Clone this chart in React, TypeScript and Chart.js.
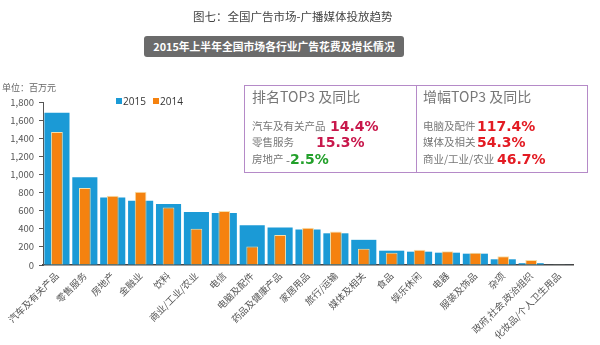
import React, { useEffect, useRef } from "react";
import { Chart, registerables } from "chart.js";

Chart.register(...registerables);

const categories = [
  "汽车及有关产品", "零售服务", "房地产", "金融业", "饮料", "商业/工业/农业", "电信",
  "电脑及配件", "药品及健康产品", "家居用品", "旅行/运输", "媒体及相关", "食品",
  "娱乐休闲", "电器", "服装及饰品", "杂项", "政府,社会,政治组织", "化妆品/个人卫生用品",
];
const values2015 = [1680, 970, 745, 710, 675, 585, 575, 440, 415, 392, 350, 278, 158, 147, 136, 125, 63, 20, 5];
const values2014 = [1470, 850, 765, 810, 635, 400, 595, 203, 330, 412, 370, 180, 136, 169, 151, 136, 96, 55, 8];
const yTicks = [0, 200, 400, 600, 800, 1000, 1200, 1400, 1600, 1800];

const rankTitle = "排名TOP3 及同比";
const rankNames = ["汽车及有关产品", "零售服务", "房地产"];
const rankValues = ["14.4%", "15.3%", "2.5%"];
const growthTitle = "增幅TOP3 及同比";
const growthNames = ["电脑及配件", "媒体及相关", "商业/工业/农业"];
const growthValues = ["117.4%", "54.3%", "46.7%"];

const FONT = '"Noto Sans CJK SC", "Noto Sans", sans-serif';
const BLUE = "#1b9ad6";
const ORANGE = "#f5820f";

export default function App() {
  const ref = useRef<HTMLCanvasElement>(null);
  useEffect(() => {
    if (!ref.current) return;
    const chart = new Chart(ref.current, {
      type: "bar",
      data: {
        labels: categories,
        datasets: [
          {
            label: "2015",
            data: values2015,
            backgroundColor: BLUE,
            borderWidth: 0,
            grouped: false,
            order: 2,
            categoryPercentage: 1,
            barPercentage: 0.9,
          },
          {
            label: "2014",
            data: values2014,
            backgroundColor: ORANGE,
            borderColor: "#f7dfa8",
            borderWidth: 1,
            grouped: false,
            order: 1,
            categoryPercentage: 1,
            barPercentage: 0.42,
          },
        ],
      },
      options: {
        responsive: false,
        animation: false,
        layout: { padding: { top: 102, right: 27, left: 0, bottom: 0 } },
        plugins: { legend: { display: false }, tooltip: { enabled: false } },
        scales: {
          x: {
            grid: { display: false, drawTicks: false },
            border: { display: true, color: "#444", width: 1.5 },
            ticks: {
              color: "#555",
              font: { family: FONT, size: 9.5 },
              maxRotation: 45,
              minRotation: 45,
              autoSkip: false,
              padding: 5,
            },
            afterFit: (s: any) => {
              s.height = 80;
            },
          },
          y: {
            min: 0,
            max: 1800,
            afterBuildTicks: (s: any) => {
              s.ticks = yTicks.map((v) => ({ value: v }));
            },
            grid: { display: true, drawOnChartArea: false, drawTicks: true, tickLength: 4, color: "#555" },
            border: { display: true, color: "#555", width: 1 },
            ticks: {
              color: "#555",
              font: { family: FONT, size: 9.5 },
              padding: 5,
              callback: (v: any) => Number(v).toLocaleString("en-US"),
            },
            afterFit: (s: any) => {
              s.width = 43;
            },
          },
        },
      },
    });
    return () => chart.destroy();
  }, []);

  const abs = (x: number, y: number, extra: React.CSSProperties = {}): React.CSSProperties => ({
    position: "absolute",
    left: x,
    top: y,
    whiteSpace: "nowrap",
    fontFamily: FONT,
    lineHeight: 1,
    ...extra,
  });

  const rowY = [119, 135, 152];
  const pct = (x: number, y: number, color: string): React.CSSProperties =>
    abs(x, y, { fontSize: 14, color, fontWeight: "bold", fontFamily: '"DejaVu Sans", sans-serif' });

  return (
    <div style={{ position: "absolute", left: 0, top: 0, width: 600, height: 345, background: "#fff", overflow: "hidden" }}>
      <canvas ref={ref} width={600} height={345} style={{ position: "absolute", left: 0, top: 0 }} />
      <div style={abs(193, 11, { fontSize: 11.5, color: "#444" })}>图七：全国广告市场-广播媒体投放趋势</div>
      <div
        style={abs(144, 36, {
          width: 260,
          height: 21,
          background: "#6b6b6b",
          borderRadius: 3,
          color: "#fff",
          fontSize: 10.8,
          fontWeight: "bold",
          display: "flex",
          alignItems: "center",
          justifyContent: "center",
        })}
      >
        2015年上半年全国市场各行业广告花费及增长情况
      </div>
      <div style={abs(2, 83, { fontSize: 9, color: "#666" })}>单位：百万元</div>
      <div style={abs(116, 98, { width: 6, height: 6, background: BLUE })} />
      <div style={abs(123, 96, { fontSize: 10, color: "#333", fontFamily: '"Open Sans", sans-serif' })}>2015</div>
      <div style={abs(153, 98, { width: 6, height: 6, background: ORANGE })} />
      <div style={abs(160, 96, { fontSize: 10, color: "#333", fontFamily: '"Open Sans", sans-serif' })}>2014</div>

      <div
        style={{
          position: "absolute",
          left: 244,
          top: 85,
          width: 344,
          height: 88,
          border: "1px solid #b58ac8",
          boxSizing: "border-box",
        }}
      />
      <div style={{ position: "absolute", left: 416, top: 85, width: 1, height: 88, background: "#b58ac8" }} />

      <div style={abs(252, 89, { fontSize: 14, color: "#777" })}>{rankTitle}</div>
      <div style={abs(252, rowY[0] + 2, { fontSize: 10.5, color: "#777" })}>{rankNames[0]}</div>
      <div style={pct(330, rowY[0], "#c8174b")}>{rankValues[0]}</div>
      <div style={abs(252, rowY[1] + 2, { fontSize: 10.5, color: "#777" })}>{rankNames[1]}</div>
      <div style={pct(316, rowY[1], "#c8174b")}>{rankValues[1]}</div>
      <div style={abs(252, rowY[2] + 2, { fontSize: 10.5, color: "#777" })}>{rankNames[2]}</div>
      <div style={pct(286, rowY[2], "#22a02a")}>
        <span style={{ color: "#777", fontWeight: "normal", fontSize: 11 }}>-</span>
        {rankValues[2]}
      </div>

      <div style={abs(423, 89, { fontSize: 14, color: "#777" })}>{growthTitle}</div>
      <div style={abs(423, rowY[0] + 2, { fontSize: 10.5, color: "#777" })}>{growthNames[0]}</div>
      <div style={pct(477, rowY[0], "#e31b23")}>{growthValues[0]}</div>
      <div style={abs(423, rowY[1] + 2, { fontSize: 10.5, color: "#777" })}>{growthNames[1]}</div>
      <div style={pct(477, rowY[1], "#e31b23")}>{growthValues[1]}</div>
      <div style={abs(423, rowY[2] + 2, { fontSize: 10.5, color: "#777" })}>{growthNames[2]}</div>
      <div style={pct(497, rowY[2], "#e31b23")}>{growthValues[2]}</div>
    </div>
  );
}
